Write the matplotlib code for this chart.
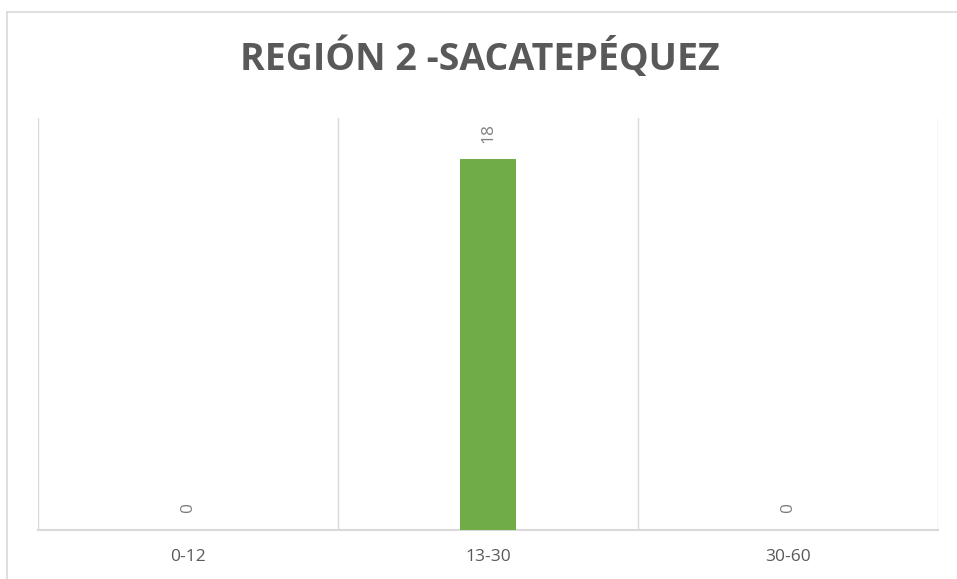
import matplotlib.pyplot as plt
from matplotlib.lines import Line2D

categorias = ["0-12", "13-30", "30-60"]
valores = [0, 18, 0]
titulo = "REGIÓN 2 -SACATEPÉQUEZ"

W, H = 957, 579
fig = plt.figure(figsize=(W / 100, H / 100), dpi=100)
ax = fig.add_axes([38 / W, (H - 530) / H, 900 / W, 412 / H])

x = list(range(len(categorias)))
ax.bar(x, valores, width=0.187, color="#70ad47", zorder=3)

for xi, v in zip(x, valores):
    ax.annotate(str(v), (xi, v), xytext=(0, 12), textcoords="offset points",
                rotation=90, ha="center", va="bottom",
                color="#808080", fontsize=12.5, family="Open Sans")

ax.set_xlim(-0.5, 2.5)
ax.set_ylim(0, 20)
for b in [-0.5, 0.5, 1.5, 2.5]:
    ax.axvline(b, color="#d9d9d9", lw=1, zorder=1)

for s in ["top", "left", "right"]:
    ax.spines[s].set_visible(False)
ax.spines["bottom"].set_color("#d9d9d9")
ax.spines["bottom"].set_linewidth(1.5)
ax.set_yticks([])
ax.set_xticks(x)
ax.set_xticklabels(categorias, color="#595959", fontsize=12.5, family="Open Sans")
ax.tick_params(axis="x", length=0, pad=14)

fig.text(480 / W, 1 - 58 / H, titulo, ha="center", va="center",
         fontsize=27, fontweight="bold", color="#595959", family="Open Sans")

# borde del área del gráfico
fig.add_artist(Line2D([7 / W, 7 / W], [0, 1 - 12 / H], color="#d9d9d9", lw=1.2))
fig.add_artist(Line2D([7 / W, 1], [1 - 12 / H, 1 - 12 / H], color="#d9d9d9", lw=1.2))

fig.savefig("out.png", dpi=100)
